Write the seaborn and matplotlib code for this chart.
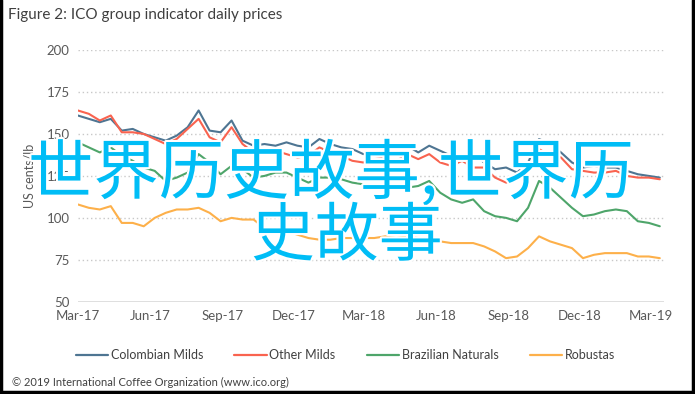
import pandas as pd
import matplotlib.pyplot as plt
import seaborn as sns
import matplotlib.patheffects as pe
from matplotlib.lines import Line2D

dates = pd.date_range('2017-03-01', periods=54, freq='14D')

colombian = [161, 159, 157, 159, 152, 153, 150, 148, 146, 149, 154, 164, 152, 151, 158, 146, 143, 144,
             143, 145, 143, 142, 147, 144, 142, 141, 138, 139, 141, 139, 143, 139, 143, 140, 137, 136,
             138, 133, 129, 130, 127, 133, 147, 144, 139, 133, 130, 131, 130, 130, 128, 126, 125, 124]
other_milds = [164, 162, 158, 161, 151, 151, 150, 147, 144, 147, 153, 159, 148, 145, 154, 144, 139, 141,
               140, 138, 136, 137, 142, 139, 137, 134, 133, 135, 136, 134, 138, 135, 138, 133, 131, 134,
               130, 130, 124, 121, 123, 127, 141, 137, 136, 129, 128, 127, 127, 128, 125, 124, 124, 123]
brazilian = [145, 142, 139, 142, 137, 134, 130, 128, 122, 124, 127, 138, 133, 126, 131, 129, 124, 125,
             127, 127, 124, 121, 124, 124, 123, 121, 120, 120, 119, 119, 118, 119, 122, 115, 111, 109,
             111, 104, 101, 100, 98, 106, 122, 118, 112, 106, 101, 102, 104, 105, 104, 98, 97, 95]
robustas = [108, 106, 105, 107, 97, 97, 95, 100, 103, 105, 105, 106, 103, 98, 100, 99, 99, 94,
            93, 92, 90, 88, 87, 87, 88, 88, 88, 88, 89, 88, 89, 88, 87, 86, 85, 85,
            85, 83, 80, 76, 77, 82, 89, 86, 84, 82, 76, 78, 79, 79, 79, 77, 77, 76]

groups = ['Colombian Milds', 'Other Milds', 'Brazilian Naturals', 'Robustas']
colors = ['#4e7592', '#f9634f', '#4ea56a', '#fdb04a']
yticks = [50, 75, 100, 125, 150, 175, 200]
xticks = pd.date_range('2017-03-01', '2019-03-01', freq='3MS')

df = pd.DataFrame({'date': dates, groups[0]: colombian, groups[1]: other_milds,
                   groups[2]: brazilian, groups[3]: robustas})
df = df.melt(id_vars='date', var_name='group', value_name='price')

sns.set_style('white')
plt.rcParams['font.family'] = ['Lato', 'DejaVu Sans']

fig = plt.figure(figsize=(6.95, 3.94), dpi=100)
ax = fig.add_axes([0.112, 0.234, 0.843, 0.639])
sns.lineplot(data=df, x='date', y='price', hue='group', hue_order=groups,
             palette=colors, linewidth=1.5, ax=ax, legend=False)

ax.set_ylim(50, 200)
ax.set_yticks(yticks)
ax.set_xlim(pd.Timestamp('2017-03-01'), pd.Timestamp('2019-03-18'))
ax.set_xticks(xticks)
ax.set_xticklabels([d.strftime('%b-%y') for d in xticks])
ax.tick_params(length=0, labelsize=9.5, labelcolor='#595959', pad=6)
ax.set_xlabel('')
ax.set_ylabel('US cents/lb', fontsize=9, color='#595959', labelpad=8)
for s in ax.spines.values():
    s.set_visible(False)
for v in yticks[1:]:
    ax.axhline(v, color='#c8c8c8', lw=1, ls=(0, (1, 2)), zorder=0)
ax.axhline(50, color='#d9d9d9', lw=1.2, zorder=0)

handles = [Line2D([], [], color=c, lw=1.6) for c in colors]
fig.legend(handles, groups, loc='center', bbox_to_anchor=(0.497, 0.098), ncol=4, frameon=False,
           fontsize=9, handlelength=2.6, handletextpad=0.2, columnspacing=2.5,
           labelcolor='#404040')

fig.text(0.012, 0.962, 'Figure 2: ICO group indicator daily prices', fontsize=11,
         color='#404040', va='center')
fig.text(0.017, 0.03, '© 2019 International Coffee Organization (www.ico.org)', fontsize=8,
         color='#404040', va='center')

cjk = ['Noto Sans CJK SC', 'DejaVu Sans']
fx = [pe.withStroke(linewidth=3, foreground='white')]
fig.text(0.476, 0.556, '世界历史故事,世界历', fontsize=47, color='#00bdf6', family=cjk,
         ha='center', va='center', path_effects=fx)
fig.text(0.499, 0.398, '史故事', fontsize=46, color='#00bdf6', family=cjk,
         ha='center', va='center', path_effects=fx)

for xs, ys in [([0.002, 0.002], [0, 1]), ([0.997, 0.997], [0, 1]), ([0, 1], [0.004, 0.004])]:
    fig.add_artist(Line2D(xs, ys, color='black', lw=2.5, transform=fig.transFigure))

fig.savefig('out.png', dpi=100)
